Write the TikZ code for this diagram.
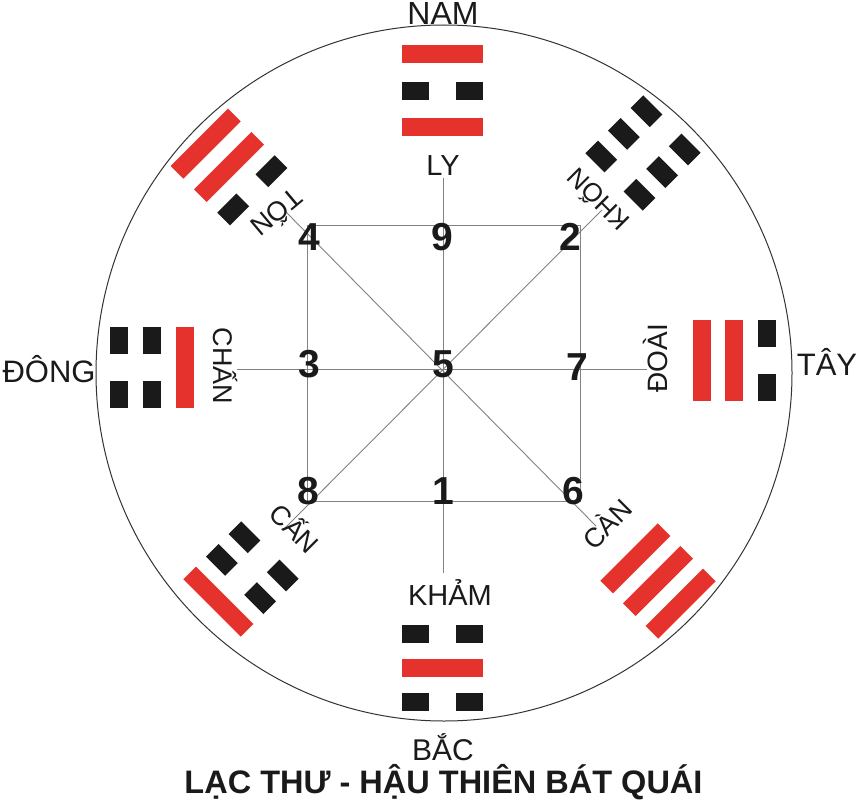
\documentclass[tikz,border=0pt]{standalone}
\usepackage{fontspec}
\setmainfont{Liberation Sans}
\definecolor{trired}{RGB}{230,50,45}
\definecolor{triblack}{RGB}{26,26,26}
\definecolor{linegray}{RGB}{130,130,130}
\newcommand\yangL[1]{\fill[trired] (-40.5,#1-9) rectangle (40.5,#1+9);}
\newcommand\yinL[1]{\fill[triblack] (-40.5,#1-9) rectangle (-13.5,#1+9);\fill[triblack] (13.5,#1-9) rectangle (40.5,#1+9);}
\newcommand\TriG[7]{\begin{scope}[shift={(#1,#2)},rotate=#3] #5{#4} #6{0} #7{-#4} \end{scope}}
\tikzset{
  lbl/.style={font=\fontsize{#1}{#1}\selectfont, text=triblack, inner sep=0pt},
  lbl/.default=29,
  num/.style={font=\bfseries\fontsize{39}{42}\selectfont, text=triblack, inner sep=0pt},
  grid line/.style={draw=linegray, line width=0.9pt},
  rim/.style={draw=black!80, line width=1pt}
}
\begin{document}
\begin{tikzpicture}[x=1pt,y=-1pt]
\useasboundingbox (0,0) rectangle (859,800);
\fill[white] (0,0) rectangle (859,800);
% circle
\coordinate (O) at (444,373);
\draw[rim] (O) circle[radius=348pt];
% grid coordinates
\coordinate (C) at (443,369);
\coordinate (hl) at (237,369);
\coordinate (hr) at (647,369);
\coordinate (vt) at (443,178);
\coordinate (vb) at (443,573);
\coordinate (dnw) at (284,210);
\coordinate (dse) at (596,526);
\coordinate (dne) at (602,210);
\coordinate (dsw) at (283,530);
\coordinate (sqa) at (307,225);
\coordinate (sqb) at (580,501);
\draw[grid line] (sqa) rectangle (sqb);
\draw[grid line] (hl) -- (hr);
\draw[grid line] (vt) -- (vb);
\draw[grid line] (dnw) -- (dse);
\draw[grid line] (dne) -- (dsw);
% trigrams: x, y, rotation, pitch, inner, middle, outer
\TriG{442.5}{90.5}{0}{36}{\yangL}{\yinL}{\yangL}     % Ly
\TriG{442}{668}{180}{34}{\yinL}{\yangL}{\yinL}       % Kham
\TriG{152}{367.5}{90}{33}{\yangL}{\yinL}{\yinL}      % Chan
\TriG{734}{360}{-90}{32.5}{\yangL}{\yangL}{\yinL}    % Doai
\TriG{229}{167}{45}{33}{\yinL}{\yangL}{\yangL}       % Ton
\TriG{643}{153}{-45}{32}{\yinL}{\yinL}{\yinL}        % Khon
\TriG{241}{579}{135}{32}{\yinL}{\yinL}{\yangL}       % Can (mountain)
\TriG{658}{581}{-135}{32}{\yangL}{\yangL}{\yangL}    % Can (heaven)
% numbers
\node[num] (n4) at (309,237) {4};
\node[num] (n9) at (442,237) {9};
\node[num] (n2) at (570,237) {2};
\node[num] (n3) at (309,364) {3};
\node[num] (n5) at (443,364) {5};
\node[num] (n7) at (577,367) {7};
\node[num] (n8) at (308,491) {8};
\node[num] (n1) at (443,491) {1};
\node[num] (n6) at (573,491) {6};
% labels
\node[lbl=32, anchor=base] (nam) at (443,25) {NAM};
\node[lbl=29, anchor=base] (ly) at (443,175) {LY};
\node[lbl=29, anchor=base] (kham) at (450,605) {KHẢM};
\node[lbl=30, anchor=base] (bac) at (443,760) {BẮC};
\node[lbl=31, anchor=base] (dong) at (49,382) {ĐÔNG};
\node[lbl=31, anchor=base] (tay) at (827,375) {TÂY};
\node[lbl=27, anchor=base, rotate=-90] (chan) at (213,366) {CHẤN};
\node[lbl=28, anchor=base, rotate=90] (doai) at (667,358) {ĐOÀI};
\node[lbl=27, rotate=220] (ton) at (278,214) {TỐN};
\node[lbl=26, rotate=135] (khon) at (597,201) {KHỐN};
\node[lbl=27, rotate=-45] (cann) at (296,527) {CẤN};
\node[lbl=27, rotate=45] (cant) at (606,523) {CÀN};
\node[font=\fontsize{32.5}{36}\selectfont\bfseries, text=triblack, inner sep=0pt, anchor=base] (title) at (443.5,793) {LẠC THƯ - HẬU THIÊN BÁT QUÁI};
\end{tikzpicture}
\end{document}
